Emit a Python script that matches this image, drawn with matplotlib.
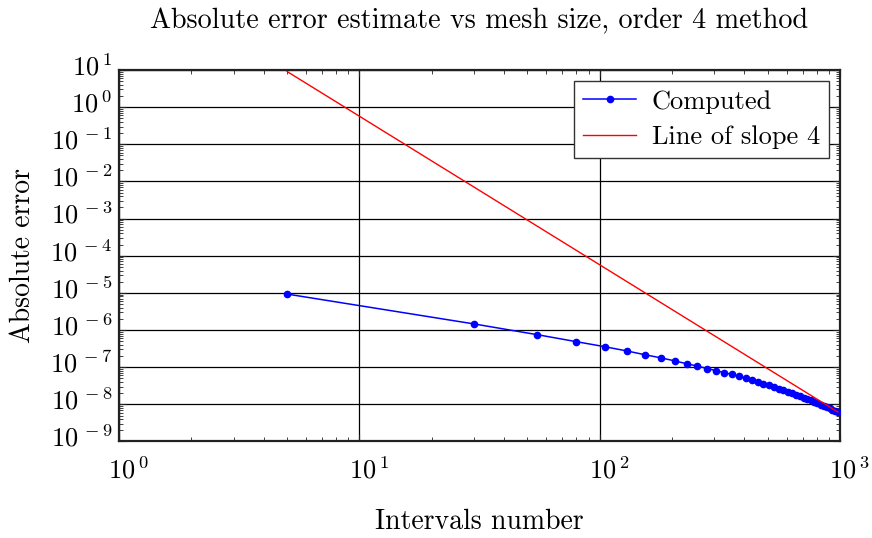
import numpy as np
import matplotlib
matplotlib.use("Agg")
import matplotlib.pyplot as plt
from matplotlib.ticker import LogLocator, NullFormatter
from matplotlib.transforms import ScaledTranslation

plt.rcParams['font.family'] = 'cmr10'
plt.rcParams['mathtext.fontset'] = 'cm'
plt.rcParams['axes.unicode_minus'] = False

# number of intervals used in each run
intervals = [5, 30, 55, 80, 105, 130, 155, 180, 205, 230, 255, 280, 305, 330,
             355, 380, 405, 430, 455, 480, 505, 530, 555, 580, 605, 630, 655,
             680, 705, 730, 755, 780, 805, 830, 855, 880, 905, 930, 955, 980]

# absolute error estimate for each run
abs_error = [9.3e-6, 1.46e-6, 7.5e-7, 4.86e-7, 3.56e-7, 2.73e-7, 2.15e-7,
             1.78e-7, 1.48e-7, 1.24e-7, 1.07e-7, 9.2e-8, 8.05e-8, 7.11e-8,
             6.38e-8, 5.68e-8, 5.06e-8, 4.52e-8, 4.05e-8, 3.63e-8, 3.27e-8,
             2.94e-8, 2.66e-8, 2.41e-8, 2.19e-8, 1.99e-8, 1.81e-8, 1.65e-8,
             1.51e-8, 1.38e-8, 1.27e-8, 1.16e-8, 1.07e-8, 9.88e-9, 9.10e-9,
             8.41e-9, 7.78e-9, 7.21e-9, 6.68e-9, 6.19e-9]

slope_order = 4

x_exponents = [0, 1, 2, 3]
y_exponents = [1, 0, -1, -2, -3, -4, -5, -6, -7, -8, -9]

x = np.array(intervals, dtype=float)
err = np.array(abs_error)
# reference line of the given slope through the last computed point
ref = err[-1] * (x[-1] / x) ** slope_order

fig = plt.figure(figsize=(8.72, 5.38), dpi=100)
ax = fig.add_axes([0.1365, 0.1794, 0.8268, 0.6905])

ax.loglog(x, err, color='#0000ff', lw=1.1, marker='o', ms=4.5,
          label='Computed', zorder=3)
ax.loglog(x, ref, color='#ff0000', lw=1.0, label='Line of slope %d' % slope_order,
          zorder=4)

ax.set_xlim(1, 1000)
ax.set_ylim(1e-9, 1e1)

ax.set_xticks([10.0 ** e for e in x_exponents])
ax.set_xticklabels([r'$10^{\,%d}$' % e for e in x_exponents])
ax.set_yticks([10.0 ** e for e in y_exponents])
ax.set_yticklabels([r'$10^{\,%d}$' % e for e in y_exponents])
ax.xaxis.set_minor_locator(LogLocator(base=10, subs=np.arange(2, 10), numticks=20))
ax.yaxis.set_minor_locator(LogLocator(base=10, subs=np.arange(2, 10), numticks=20))
ax.xaxis.set_minor_formatter(NullFormatter())
ax.yaxis.set_minor_formatter(NullFormatter())

ax.tick_params(which='both', direction='in', top=True, right=True, color='#222222')
ax.tick_params(which='major', length=5, width=0.8, labelsize=19)
ax.tick_params(which='minor', length=3, width=0.6)
ax.tick_params(axis='x', which='major', pad=11)
ax.tick_params(axis='y', which='major', pad=5)

# keep the mantissa centred under the tick, exponent hanging to the right
shift_x = ScaledTranslation(7 / 72, 0, fig.dpi_scale_trans)
for lab in ax.get_xticklabels():
    lab.set_transform(lab.get_transform() + shift_x)
shift_y = ScaledTranslation(0, 4 / 72, fig.dpi_scale_trans)
for lab in ax.get_yticklabels():
    lab.set_transform(lab.get_transform() + shift_y)

ax.grid(True, which='major', color='black', lw=0.9)
for sp in ax.spines.values():
    sp.set_linewidth(1.6)
    sp.set_color('#222222')

ax.set_title('Absolute error estimate vs mesh size, order 4 method',
             fontsize=20.3, pad=30)
ax.set_xlabel('Intervals number', fontsize=20, labelpad=18)
ax.set_ylabel('Absolute error', fontsize=20, labelpad=10)

leg = ax.legend(loc='upper right', fontsize=19, fancybox=False, framealpha=1,
                edgecolor='#333333', borderaxespad=0.4, handlelength=2.0,
                handletextpad=0.6, borderpad=0.35, labelspacing=0.45)
leg.get_frame().set_linewidth(1.0)

fig.savefig('out.png', dpi=100)
